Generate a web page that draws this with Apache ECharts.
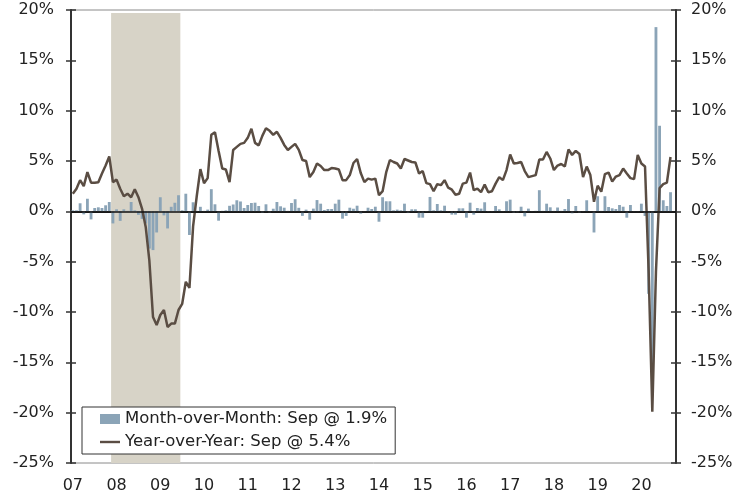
<!DOCTYPE html>
<html>
<head>
<meta charset="utf-8">
<script src="https://cdn.jsdelivr.net/npm/echarts@6/dist/echarts.min.js"></script>
<style>
  html, body { margin: 0; padding: 0; background: #fff; }
  #chart { width: 752px; height: 497px; }
</style>
</head>
<body>
<div id="chart"></div>
<script>
  // monthly, Jan 2007 .. Sep 2020 (one empty slot for Oct 2020 at the end)
  const years = ['07', '08', '09', '10', '11', '12', '13', '14', '15', '16', '17', '18', '19', '20'];
  const months = ['01', '02', '03', '04', '05', '06', '07', '08', '09', '10', '11', '12'];
  const categories = [];
  years.forEach(function (y) {
    months.forEach(function (m) {
      if (y === '20' && m === '11') return;
      if (y === '20' && m === '12') return;
      categories.push('20' + y + '-' + m);
    });
  });

  // month-over-month % change (bars)
  const mom = [
    0.1, 0.1, 0.8, -0.3, 1.25, -0.8, 0.33, 0.4, 0.33, 0.6, 0.93, -1.2,
    0.2, -0.95, 0.2, 0.05, 0.93, 0.1, -0.35, -0.75, -1.2, -3.7, -3.85, -2.1,
    1.4, -0.4, -1.7, 0.45, 0.85, 1.6, 0.1, 1.75, -2.35, 0.9, 0.05, 0.45,
    0.05, 0.17, 2.2, 0.7, -0.93, 0.05, 0.1, 0.55, 0.68, 1.1, 0.98, 0.33,
    0.63, 0.83, 0.86, 0.53, -0.15, 0.7, -0.13, 0.26, 0.93, 0.5, 0.36, 0.05,
    0.83, 1.2, 0.35, -0.45, 0.17, -0.83, 0.27, 1.12, 0.76, 0.13, 0.23, 0.23,
    0.76, 1.16, -0.73, -0.46, 0.36, 0.26, 0.56, -0.23, 0.03, 0.36, 0.23, 0.46,
    -1.03, 1.4, 1.0, 1.0, 0.1, 0.17, 0.1, 0.76, -0.17, 0.2, 0.2, -0.63,
    -0.63, -0.05, 1.43, 0.1, 0.73, 0.1, 0.56, 0.03, -0.33, -0.33, 0.3, 0.3,
    -0.63, 0.86, -0.33, 0.33, 0.27, 0.9, -0.05, 0.03, 0.53, 0.2, 0.03, 1.0,
    1.16, -0.15, -0.1, 0.46, -0.5, 0.27, 0.03, 0.05, 2.1, 0.05, 0.76, 0.4,
    0.05, 0.38, 0.05, 0.23, 1.22, -0.2, 0.53, -0.13, 0.03, 1.1, 0.03, -2.1,
    1.5, 0.05, 1.5, 0.43, 0.3, 0.23, 0.63, 0.46, -0.63, 0.63, 0.03, 0.03,
    0.76, -0.46, -8.2, -16, 18.3, 8.5, 1.1, 0.53, 1.9
  ];

  // year-over-year % change (line)
  const yoy = [
    1.75, 2.25, 3.1, 2.5, 3.9, 2.85, 2.85, 2.9, 3.75, 4.55, 5.45, 2.9,
    3.15, 2.25, 1.5, 1.75, 1.4, 2.2, 1.4, 0.25, -1.55, -4.9, -10.5, -11.3,
    -10.3, -9.8, -11.5, -11.15, -11.15, -9.8, -9.2, -7.0, -7.6, -1.5, 1.5, 4.2,
    2.8, 3.3, 7.6, 7.85, 6.0, 4.25, 4.15, 2.9, 6.1, 6.4, 6.7, 6.8,
    7.3, 8.2, 6.8, 6.55, 7.5, 8.25, 8.0, 7.6, 7.9, 7.3, 6.6, 6.1,
    6.4, 6.7, 6.1, 5.1, 5.0, 3.4, 3.9, 4.75, 4.5, 4.1, 4.1, 4.3,
    4.25, 4.15, 3.1, 3.1, 3.6, 4.8, 5.2, 3.8, 2.9, 3.25, 3.15, 3.25,
    1.6, 2.0, 3.9, 5.1, 4.9, 4.75, 4.25, 5.2, 5.05, 4.9, 4.85, 3.75,
    4.0, 2.8, 2.7, 2.0, 2.7, 2.6, 3.1, 2.35, 2.15, 1.65, 1.75, 2.75,
    2.85, 3.85, 2.1, 2.25, 1.9, 2.65, 1.9, 2.0, 2.75, 3.4, 3.1, 4.1,
    5.65, 4.75, 4.8, 4.9, 4.0, 3.4, 3.5, 3.6, 5.15, 5.15, 5.9, 5.25,
    4.1, 4.55, 4.7, 4.45, 6.15, 5.6, 6.0, 5.7, 3.4, 4.45, 3.6, 0.95,
    2.55, 1.95, 3.7, 3.85, 2.95, 3.45, 3.6, 4.25, 3.75, 3.3, 3.2, 5.6,
    4.75, 4.45, -6, -19.9, -6, 2.3, 2.7, 2.85, 5.4
  ];

  // recession shading Dec 2007 - Jun 2009
  const recessionStart = '2007-12';
  const recessionEnd = '2009-06';
  const recessionTop = 19.7;
  const yMin = -25, yMax = 20, yStep = 5;

  const momName = 'Month-over-Month: Sep @ 1.9%';
  const yoyName = 'Year-over-Year: Sep @ 5.4%';

  // month boundaries (one more than months) so the shading covers whole months
  const edges = categories.map(function (c, i) { return i; }).concat([categories.length]);
  const recFrom = categories.indexOf(recessionStart);
  const recTo = categories.indexOf(recessionEnd) + 1;

  const font = 'DejaVu Sans';
  const axisColor = '#333';
  const isJan = function (index) { return index % 12 === 0; };

  const chart = echarts.init(document.getElementById('chart'));

  const yBase = {
    type: 'value',
    min: yMin,
    max: yMax,
    interval: yStep,
    splitLine: { show: false }
  };

  chart.setOption({
    animation: false,
    grid: {
      left: 71,
      right: 76,
      top: 10,
      bottom: 34,
      show: true,
      borderColor: '#8a8a8a',
      borderWidth: 1
    },
    legend: {
      orient: 'vertical',
      left: 82,
      top: 407,
      data: [
        { name: momName, icon: 'rect' },
        { name: yoyName, icon: 'path://M0,0 L20,0 L20,2.4 L0,2.4 Z' }
      ],
      backgroundColor: '#fff',
      borderColor: '#333',
      borderWidth: 1,
      padding: [3, 8, 3, 18],
      itemGap: 5,
      itemWidth: 20,
      itemHeight: 10,
      z: 10,
      textStyle: { fontFamily: font, fontSize: 16.5, color: '#222', lineHeight: 18 }
    },
    xAxis: [
      {
        type: 'category',
        data: categories,
        boundaryGap: true,
        position: 'bottom',
        axisLine: { lineStyle: { color: axisColor, width: 2 } },
        axisTick: { interval: isJan, length: 7, lineStyle: { color: axisColor, width: 1.5 } },
        axisLabel: {
          interval: isJan,
          margin: 15,
          fontFamily: font,
          fontSize: 16,
          color: '#222',
          formatter: function (v) { return v.slice(2, 4); }
        }
      },
      {
        type: 'category',
        data: categories,
        boundaryGap: true,
        position: 'bottom',
        axisLine: { show: false },
        axisTick: { inside: true, interval: isJan, length: 3, lineStyle: { color: axisColor, width: 1.5 } },
        axisLabel: { show: false }
      },
      {
        type: 'category',
        data: edges,
        boundaryGap: false,
        show: false
      }
    ],
    yAxis: [
      Object.assign({}, yBase, {
        position: 'left',
        axisLine: { show: true, lineStyle: { color: axisColor, width: 2 } },
        axisTick: { show: true, length: 5, lineStyle: { color: axisColor, width: 1.5 } },
        axisLabel: { margin: 17, fontFamily: font, fontSize: 16, color: '#222', formatter: '{value}%' }
      }),
      Object.assign({}, yBase, {
        position: 'right',
        axisLine: { show: true, lineStyle: { color: axisColor, width: 2 } },
        axisTick: { show: true, length: 5, lineStyle: { color: axisColor, width: 1.5 } },
        axisLabel: { margin: 15, fontFamily: font, fontSize: 16, color: '#222', formatter: '{value}%' }
      }),
      Object.assign({}, yBase, {
        position: 'left',
        axisLine: { show: false },
        axisTick: { show: true, inside: true, length: 5, lineStyle: { color: axisColor, width: 1.5 } },
        axisLabel: { show: false }
      }),
      Object.assign({}, yBase, {
        position: 'right',
        axisLine: { show: false },
        axisTick: { show: true, inside: true, length: 5, lineStyle: { color: axisColor, width: 1.5 } },
        axisLabel: { show: false }
      })
    ],
    series: [
      {
        name: 'recession',
        type: 'line',
        xAxisIndex: 2,
        yAxisIndex: 0,
        data: [],
        silent: true,
        z: 1,
        markArea: {
          silent: true,
          itemStyle: { color: '#d7d3c7' },
          data: [[
            { xAxis: recFrom, yAxis: recessionTop },
            { xAxis: recTo, yAxis: yMin }
          ]]
        }
      },
      {
        name: momName,
        type: 'bar',
        xAxisIndex: 0,
        yAxisIndex: 0,
        data: mom,
        barWidth: '78%',
        z: 2,
        itemStyle: { color: '#8ba4b7' },
        markLine: {
          silent: true,
          symbol: ['none', 'none'],
          label: { show: false },
          lineStyle: { color: '#111', width: 1.5, type: 'solid' },
          data: [{ yAxis: 0 }]
        }
      },
      {
        name: yoyName,
        type: 'line',
        xAxisIndex: 0,
        yAxisIndex: 0,
        data: yoy,
        symbol: 'none',
        showSymbol: false,
        z: 3,
        lineStyle: { color: '#5a4d43', width: 2.5 },
        itemStyle: { color: '#5a4d43' }
      }
    ]
  });
</script>
</body>
</html>
